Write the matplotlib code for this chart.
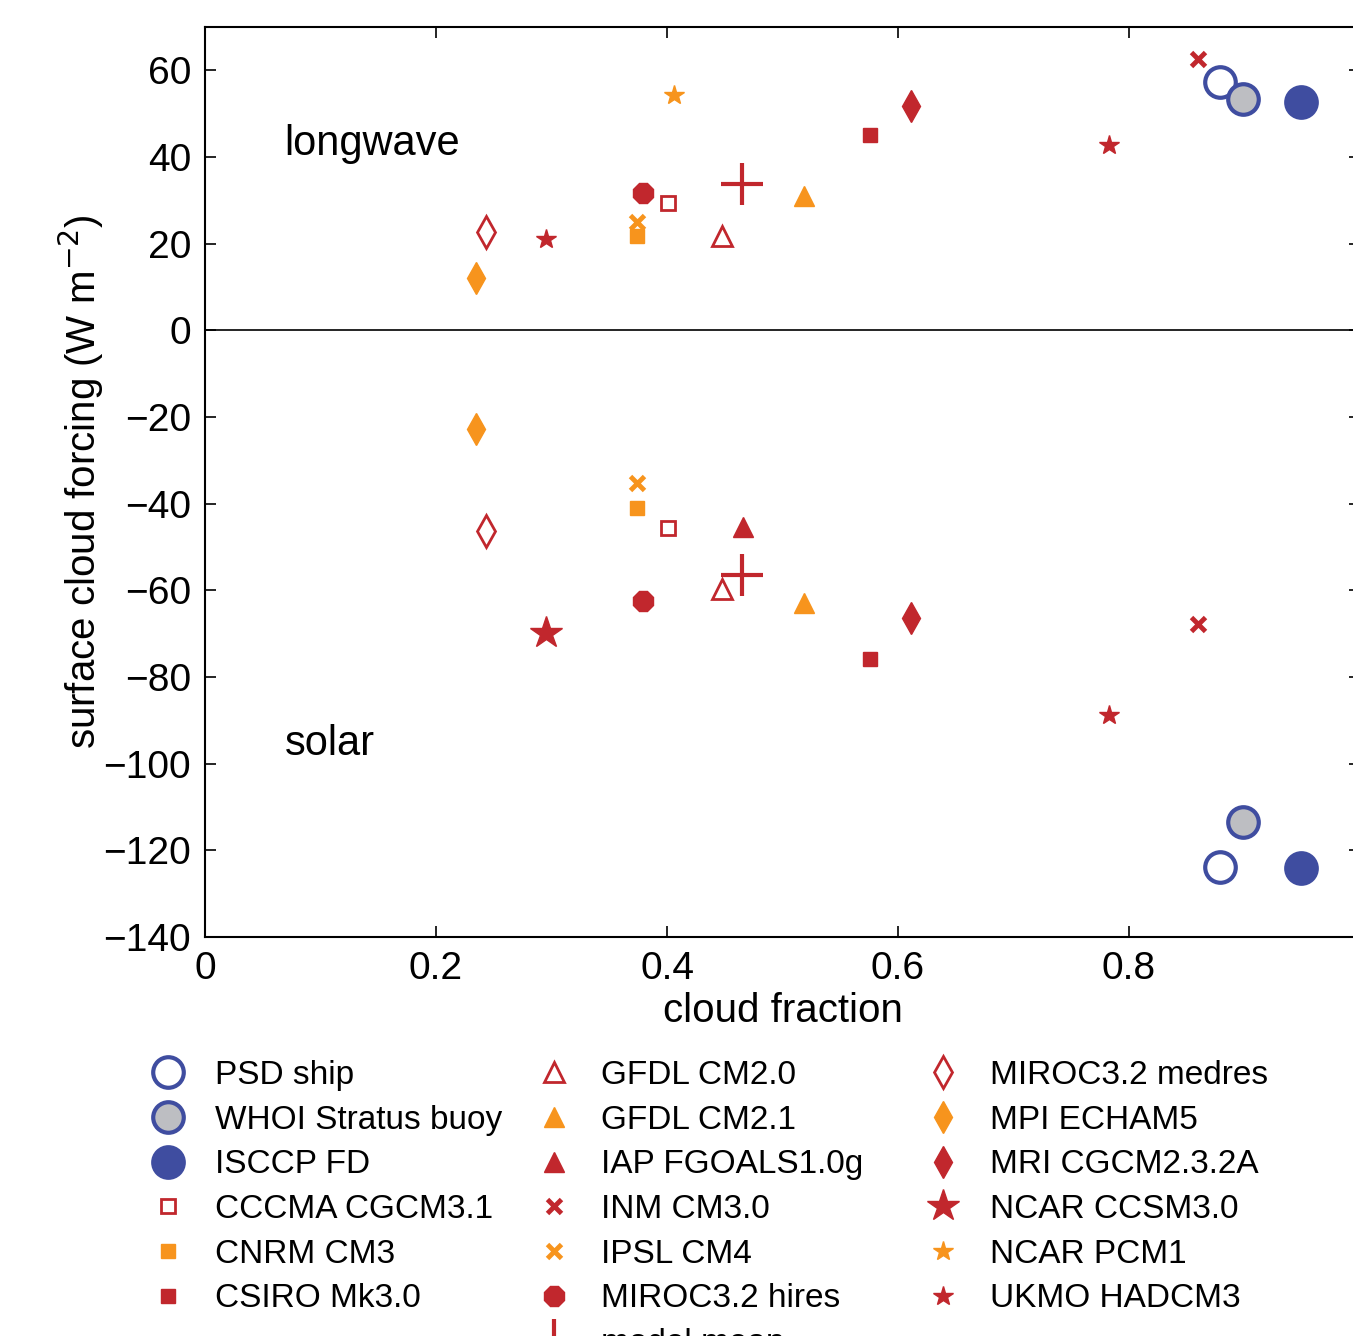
import numpy as np
import matplotlib
matplotlib.use("Agg")
import matplotlib.pyplot as plt
from matplotlib.lines import Line2D

plt.rcParams['font.family'] = ['Liberation Sans', 'DejaVu Sans']

# ---------------- data ----------------
names = ["PSD ship", "WHOI Stratus buoy", "ISCCP FD", "CCCMA CGCM3.1", "CNRM CM3",
         "CSIRO Mk3.0", "GFDL CM2.0", "GFDL CM2.1", "IAP FGOALS1.0g", "INM CM3.0",
         "IPSL CM4", "MIROC3.2 hires", "model mean", "MIROC3.2 medres", "MPI ECHAM5",
         "MRI CGCM2.3.2A", "NCAR CCSM3.0", "NCAR PCM1", "UKMO HADCM3"]
cloud_fraction = [0.879, 0.899, 0.949, 0.401, 0.374,
                  0.576, 0.448, 0.519, 0.466, 0.860,
                  0.374, 0.379, 0.465, 0.243, 0.235,
                  0.611, 0.295, 0.406, 0.783]
longwave = [57.2, 53.3, 52.6, 29.3, 21.7,
            45.0, 21.7, 31.1, np.nan, 62.7,
            25.1, 31.8, 33.7, 22.8, 12.0,
            51.7, 21.0, 54.4, 42.7]
solar = [-123.9, -113.5, -124.1, -45.7, -41.1,
         -75.9, -59.7, -63.0, -45.4, -67.8,
         -35.3, -62.5, -56.5, -46.4, -22.8,
         -66.4, -69.9, np.nan, -88.8]
xticks = [0, 0.2, 0.4, 0.6, 0.8]
xticklabels = ["0", "0.2", "0.4", "0.6", "0.8"]
yticks = [-140, -120, -100, -80, -60, -40, -20, 0, 20, 40, 60]

# ---------------- styles ----------------
BLUE = "#3F4DA0"
GRAY = "#BDBEC2"
RED = "#C1272D"
ORANGE = "#F7941D"
W = "white"
# marker, facecolor, edgecolor, markersize, edgewidth
styles = {
    "PSD ship": ("o", W, BLUE, 22, 3),
    "WHOI Stratus buoy": ("o", GRAY, BLUE, 22, 3),
    "ISCCP FD": ("o", BLUE, BLUE, 22, 3),
    "CCCMA CGCM3.1": ("s", W, RED, 10.5, 2),
    "CNRM CM3": ("s", ORANGE, ORANGE, 10.5, 1),
    "CSIRO Mk3.0": ("s", RED, RED, 10.5, 1),
    "GFDL CM2.0": ("^", W, RED, 14, 2),
    "GFDL CM2.1": ("^", ORANGE, ORANGE, 14, 1),
    "IAP FGOALS1.0g": ("^", RED, RED, 14, 1),
    "INM CM3.0": ("x", RED, RED, 10, 3.5),
    "IPSL CM4": ("x", ORANGE, ORANGE, 10, 3.5),
    "MIROC3.2 hires": ("8", RED, RED, 15, 1),
    "model mean": ("+", RED, RED, 30, 3),
    "MIROC3.2 medres": ("d", W, RED, 16, 2),
    "MPI ECHAM5": ("d", ORANGE, ORANGE, 16, 1),
    "MRI CGCM2.3.2A": ("d", RED, RED, 16, 1),
    "NCAR CCSM3.0": ("*", RED, RED, 24, 1),
    "NCAR PCM1": ("*", ORANGE, ORANGE, 15, 1),
    "UKMO HADCM3": ("*", RED, RED, 15, 1),
}

fig = plt.figure(figsize=(13.53, 13.36), dpi=100)
ax = fig.add_axes([205 / 1353, 1 - 937 / 1336, 1155 / 1353, 910 / 1336])
ax.set_xlim(0, 1)
ax.set_ylim(-140, 70)
ax.axhline(0, color="black", lw=1.2, zorder=1)

handles = []
for i, n in enumerate(names):
    m, fc, ec, ms, mew = styles[n]
    lw_ms = 15 if n == "NCAR CCSM3.0" else ms
    ax.plot([cloud_fraction[i]], [longwave[i]], linestyle="none", marker=m, mfc=fc, mec=ec,
            ms=lw_ms, mew=mew, zorder=3, clip_on=False)
    ax.plot([cloud_fraction[i]], [solar[i]], linestyle="none", marker=m, mfc=fc, mec=ec,
            ms=ms, mew=mew, zorder=3, clip_on=False)
    handles.append(Line2D([], [], linestyle="none", marker=m, mfc=fc, mec=ec,
                          ms=ms, mew=mew, label=n))

ax.text(0.069, 43, "longwave", fontsize=30, va="center", ha="left")
ax.text(0.069, -95.5, "solar", fontsize=30, va="center", ha="left")

ax.set_xticks(xticks)
ax.set_xticklabels(xticklabels)
ax.set_yticks(yticks)
ax.tick_params(direction="in", length=8, width=1.2, labelsize=28, top=True, right=True, pad=10)
for s in ax.spines.values():
    s.set_linewidth(1.5)
ax.set_xlabel("cloud fraction", fontsize=29, labelpad=4)
ax.set_ylabel("surface cloud forcing (W m$^{-2}$)", fontsize=29)
ax.yaxis.set_label_coords((106 - 205) / 1155, 0.5)

FS = 24
fs_px = FS * 100 / 72
hl = 1.0
pad = (47 - hl * fs_px / 2) / fs_px
cols = [handles[:6], handles[6:13], handles[13:]]
marker_x = [168, 554, 943]
for col, mx in zip(cols, marker_x):
    lg = fig.legend(handles=col, labels=[h.get_label() for h in col], ncol=1,
                    loc="upper left",
                    bbox_to_anchor=((mx - hl * fs_px / 2) / 1353, 1 - 1060 / 1336),
                    frameon=False, fontsize=FS, labelspacing=0.41, handletextpad=pad,
                    handlelength=hl, borderaxespad=0, borderpad=0)

fig.savefig("out.png", dpi=100)
